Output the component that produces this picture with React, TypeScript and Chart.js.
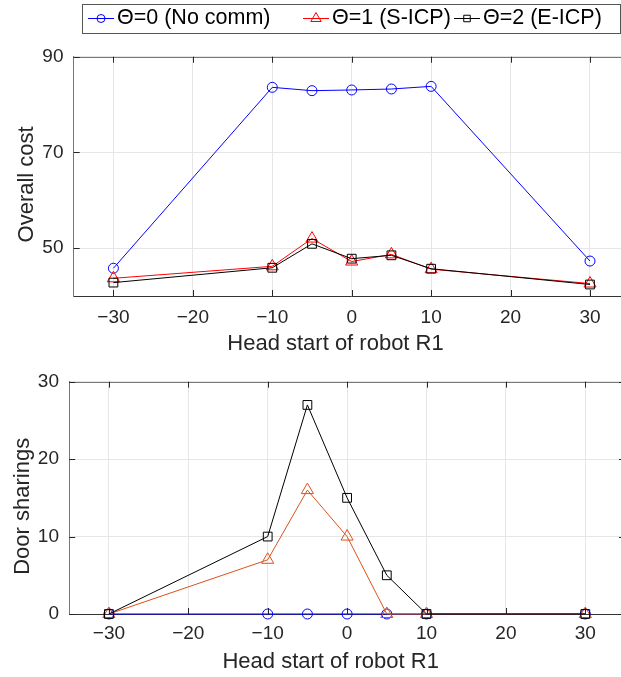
import React, { useEffect, useRef } from 'react';
import { Chart, registerables } from 'chart.js';
import { drawPoint } from 'chart.js/helpers';

Chart.register(...registerables);

// ---------------- data ----------------
const headStart = [-30, -10, -5, 0, 5, 10, 30];
const seriesLabels = ['\u0398=0 (No comm)', '\u0398=1 (S-ICP)', '\u0398=2 (E-ICP)'];
const costNoComm = [45.8, 83.6, 82.9, 83.05, 83.25, 83.8, 47.3];
const costSICP = [43.7, 46.2, 52.0, 47.2, 48.7, 45.6, 42.6];
const costEICP = [42.8, 45.9, 50.9, 47.8, 48.5, 45.7, 42.4];
const doorNoComm = [0, 0, 0, 0, 0, 0, 0];
const doorSICP = [0, 7, 16, 10, 0, 0, 0];
const doorEICP = [0, 10, 27, 15, 5, 0, 0];
const xTicks = [-30, -20, -10, 0, 10, 20, 30];
const costTicks = [50, 70, 90];
const doorTicks = [0, 10, 20, 30];
const xTitle = 'Head start of robot R1';
const costTitle = 'Overall cost';
const doorTitle = 'Door sharings';

// ---------------- styles ----------------
const FONT = "'Liberation Sans', Arial, Helvetica, sans-serif";
const TEXT = '#262626';
const GRID = '#e6e6e6';
const BLUE = '#0000ff';
const RED = '#ff0000';
const ORANGE = '#d95319';
const BLACK = '#000000';
const MARKERS = [
  { style: 'circle', r: 5, lr: 4 },
  { style: 'triangle', r: 7, lr: 6 },
  { style: 'rect', r: 6.2, lr: 4.6 },
];

const fmtTick = (v: number) => (v < 0 ? '\u2212' + Math.abs(v) : String(v));

function series(label: string, ys: number[], color: string, idx: number) {
  const m = MARKERS[idx];
  return {
    label,
    data: headStart.map((x, i) => ({ x, y: ys[i] })),
    borderColor: color,
    backgroundColor: 'rgba(0,0,0,0)',
    borderWidth: 1,
    pointStyle: m.style,
    pointRadius: m.r,
    pointHoverRadius: m.r,
    pointBorderWidth: 1,
    pointBorderColor: color,
    pointBackgroundColor: 'rgba(0,0,0,0)',
    tension: 0,
    clip: false,
    order: 3 - idx,
  };
}

// box + inward ticks like MATLAB
const boxPlugin = {
  id: 'matlabBox',
  beforeDatasetsDraw(chart: any) {
    const { ctx, chartArea: a, scales } = chart;
    const x = scales.x;
    const y = scales.y;
    ctx.save();
    ctx.lineWidth = 1;
    ctx.strokeStyle = '#777';
    const top = Math.round(a.top) + 0.5;
    const right = Math.round(a.right) + 0.5;
    ctx.beginPath();
    ctx.moveTo(a.left, top);
    ctx.lineTo(a.right, top);
    ctx.moveTo(right, a.top);
    ctx.lineTo(right, a.bottom);
    ctx.stroke();
    ctx.strokeStyle = TEXT;
    ctx.beginPath();
    x.ticks.forEach((t: any) => {
      const px = Math.round(x.getPixelForValue(t.value)) + 0.5;
      ctx.moveTo(px, a.bottom);
      ctx.lineTo(px, a.bottom - 6);
      ctx.moveTo(px, a.top);
      ctx.lineTo(px, a.top + 6);
    });
    y.ticks.forEach((t: any) => {
      const py = Math.round(y.getPixelForValue(t.value)) + 0.5;
      ctx.moveTo(a.left, py);
      ctx.lineTo(a.left + 6, py);
      ctx.moveTo(a.right, py);
      ctx.lineTo(a.right - 6, py);
    });
    ctx.stroke();
    ctx.restore();
  },
};

function titlesPlugin(xT: string, yT: string, xCenterFromLeft: number, xBaseline: number, yBaseline: number, yShift: number) {
  return {
    id: 'axisTitles',
    afterDraw(chart: any) {
      const { ctx, chartArea: a } = chart;
      ctx.save();
      ctx.font = `22px ${FONT}`;
      ctx.fillStyle = TEXT;
      ctx.textAlign = 'center';
      ctx.textBaseline = 'alphabetic';
      ctx.fillText(xT, a.left + xCenterFromLeft, xBaseline);
      ctx.translate(yBaseline, (a.top + a.bottom) / 2 + yShift);
      ctx.rotate(-Math.PI / 2);
      ctx.fillText(yT, 0, 0);
      ctx.restore();
    },
  };
}

const legendPlugin = {
  id: 'boxLegend',
  afterDraw(chart: any) {
    const ctx = chart.ctx;
    ctx.save();
    ctx.fillStyle = '#ffffff';
    ctx.fillRect(82.5, 4.5, 538, 29);
    ctx.strokeStyle = '#555';
    ctx.lineWidth = 1;
    ctx.strokeRect(82.5, 4.5, 538, 29);
    const cy = 18.5;
    const textXs = [117, 332, 483];
    const colors = [BLUE, RED, BLACK];
    seriesLabels.forEach((label, i) => {
      const tx = textXs[i];
      const x0 = tx - 29;
      const x1 = tx - 3;
      const mx = (x0 + x1) / 2;
      ctx.strokeStyle = colors[i];
      ctx.fillStyle = 'rgba(0,0,0,0)';
      ctx.lineWidth = 1;
      ctx.beginPath();
      ctx.moveTo(x0, cy);
      ctx.lineTo(x1, cy);
      ctx.stroke();
      drawPoint(ctx, { pointStyle: MARKERS[i].style as any, radius: MARKERS[i].lr, rotation: 0, borderWidth: 1 } as any, mx, cy);
      ctx.fillStyle = '#000';
      ctx.font = `21.5px ${FONT}`;
      ctx.textAlign = 'left';
      ctx.textBaseline = 'middle';
      ctx.fillText(label, tx, cy);
    });
    ctx.restore();
  },
};

function makeConfig(p: {
  datasets: any[];
  yMin: number;
  yMax: number;
  yTicks: number[];
  areaTop: number;
  areaLeft: number;
  rightPad: number;
  xAxisHeight: number;
  xTickPad: number;
  plugins: any[];
}) {
  return {
    type: 'line',
    data: { datasets: p.datasets },
    options: {
      animation: false,
      responsive: false,
      maintainAspectRatio: false,
      devicePixelRatio: 1,
      events: [],
      layout: { padding: { top: p.areaTop, left: 0, right: p.rightPad, bottom: 0 } },
      plugins: { legend: { display: false }, tooltip: { enabled: false }, title: { display: false } },
      scales: {
        x: {
          type: 'linear',
          min: -35,
          max: 35,
          afterBuildTicks: (s: any) => {
            s.ticks = xTicks.map((v) => ({ value: v }));
          },
          afterFit: (s: any) => {
            s.height = p.xAxisHeight;
            s.paddingLeft = 0;
            s.paddingRight = 0;
          },
          grid: { color: GRID, lineWidth: 1, drawTicks: false },
          border: { display: true, color: '#333', width: 1 },
          ticks: {
            autoSkip: false,
            maxRotation: 0,
            minRotation: 0,
            padding: p.xTickPad,
            color: TEXT,
            font: { family: FONT, size: 19 },
            callback: (v: any) => fmtTick(Number(v)),
          },
        },
        y: {
          type: 'linear',
          min: p.yMin,
          max: p.yMax,
          afterBuildTicks: (s: any) => {
            s.ticks = p.yTicks.map((v) => ({ value: v }));
          },
          afterFit: (s: any) => {
            s.width = p.areaLeft;
            s.paddingTop = 0;
            s.paddingBottom = 0;
          },
          grid: { color: GRID, lineWidth: 1, drawTicks: false },
          border: { display: true, color: '#777', width: 1 },
          ticks: {
            padding: 10.2,
            color: TEXT,
            font: { family: FONT, size: 19 },
            callback: (v: any) => fmtTick(Number(v)),
          },
        },
      },
    },
    plugins: [boxPlugin, ...p.plugins],
  } as any;
}

export default function App() {
  const topRef = useRef<HTMLCanvasElement>(null);
  const botRef = useRef<HTMLCanvasElement>(null);

  useEffect(() => {
    const top = new Chart(
      topRef.current as HTMLCanvasElement,
      makeConfig({
        datasets: [
          series(seriesLabels[0], costNoComm, BLUE, 0),
          series(seriesLabels[1], costSICP, RED, 1),
          series(seriesLabels[2], costEICP, BLACK, 2),
        ],
        yMin: 40,
        yMax: 90,
        yTicks: costTicks,
        areaTop: 56.7,
        areaLeft: 73.7,
        rightPad: 10.3,
        xAxisHeight: 74,
        xTickPad: 10.1,
        plugins: [titlesPlugin(xTitle, costTitle, 261.8, 349.7, 33.2, 8), legendPlugin],
      })
    );
    const bottom = new Chart(
      botRef.current as HTMLCanvasElement,
      makeConfig({
        datasets: [
          series(seriesLabels[0], doorNoComm, BLUE, 0),
          series(seriesLabels[1], doorSICP, ORANGE, 1),
          series(seriesLabels[2], doorEICP, BLACK, 2),
        ],
        yMin: 0,
        yMax: 30,
        yTicks: doorTicks,
        areaTop: 11.7,
        areaLeft: 69.2,
        rightPad: 15,
        xAxisHeight: 63,
        xTickPad: 8.4,
        plugins: [titlesPlugin(xTitle, doorTitle, 261.5, 297.7, 28.5, 8.5)],
      })
    );
    return () => {
      top.destroy();
      bottom.destroy();
    };
  }, []);

  return (
    <div
      style={{
        position: 'fixed',
        left: 0,
        top: 0,
        width: 621,
        height: 677,
        overflow: 'hidden',
        background: '#ffffff',
      }}
    >
      <canvas ref={topRef} width={640} height={370} style={{ display: 'block', width: 640, height: 370 }} />
      <canvas ref={botRef} width={640} height={307} style={{ display: 'block', width: 640, height: 307 }} />
    </div>
  );
}
